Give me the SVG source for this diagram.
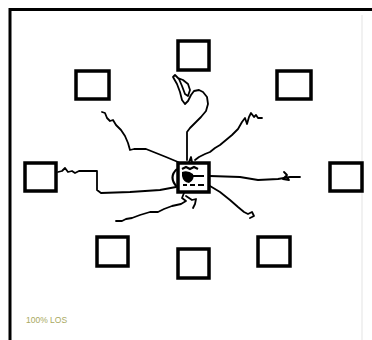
<svg xmlns="http://www.w3.org/2000/svg" width="372" height="340" viewBox="0 0 372 340">
<style>
.box{fill:none;stroke:#000;stroke-width:3.5}
.tr{fill:none;stroke:#000;stroke-width:1.8;stroke-linejoin:round;stroke-linecap:round}
.lbl{font-family:"Liberation Sans",Arial,sans-serif;font-size:8.5px;fill:#a8a860}
</style>
<rect width="372" height="340" fill="#fff"/>
<g id="frame">
<path d="M10,340 V9.5 H372" fill="none" stroke="#000" stroke-width="3"/>
<line x1="362" y1="15" x2="362" y2="340" stroke="#ececec" stroke-width="1.5"/>
</g>
<g id="connectors">
<path class="tr" d="M58,172 L62,171 L65,168 L68,172 L72,171 L75,173 L79,171 L97,171 L97,190 L101,193 L130,192 L160,190 L176,187"/>
<path class="tr" d="M102,112 L105,113 L107,118 L110,121 L113,120 L116,125 L121,130 L125,136 L128,143 L130,150 L134,149 L146,149 L156,153 L166,157 L178,162"/>
<path class="tr" d="M187,160 L187,132 L190,128 L196,122 L201,117 L206,111 L208,104 L207,97 L203,92 L199,90 L194,91 L191,95 L188,101 L185,104 L182,100 L180,92 L177,84 L173,77 L175,75 L179,79 L182,86 L185,94 L188,96 L190,90 L188,84 L183,80 L178,78"/>
<path class="tr" d="M195,160 L199,157 L205,154 L210,152 L215,148 L220,145 L226,140 L232,135 L238,129 L242,122 L245,118 L247,124 L249,117 L251,113 L254,117 L256,115 L258,118 L262,118"/>
<path class="tr" d="M210,176 L240,177 L258,180 L278,179 L290,177 L300,177"/>
<path class="tr" d="M284,172 L287,175 L283,179 L289,180 L286,176"/>
<path class="tr" d="M210,186 L220,192 L230,200 L238,207 L244,212 L248,214 L252,212 L254,216 L250,218"/>
<path class="tr" d="M184,193 L182,198 L186,201 L181,204 L172,206 L164,209 L158,212 L150,212 L140,215 L132,218 L126,219 L122,221 L116,221"/>
<path class="tr" d="M186,196 L192,200 L196,199 L195,204 L193,208"/>
<path class="tr" d="M189,162 L191,157 L192,162"/>
</g>
<g id="center">
<rect class="box" x="178" y="163" width="31" height="29"/>
<path d="M177,169 Q168,177 177,187 M182,169 L186,167 L190,169 L194,167 L198,169 M183,176 L204,176 M183,185 L187,185 M190,185 L195,185 M198,185 L204,185" fill="none" stroke="#000" stroke-width="2.2"/>
<path d="M182,172 Q188,170 193,174 Q195,180 189,183 Q183,182 182,176 Z" fill="#000"/>
</g>
<g id="n-top"><rect class="box" x="178" y="41" width="31" height="29"/></g>
<g id="n-topleft"><rect class="box" x="76" y="71" width="33" height="28"/></g>
<g id="n-topright"><rect class="box" x="277" y="71" width="34" height="28"/></g>
<g id="n-left"><rect class="box" x="25" y="163" width="31" height="28"/></g>
<g id="n-right"><rect class="box" x="330" y="163" width="32" height="28"/></g>
<g id="n-bottomleft"><rect class="box" x="97" y="237" width="31" height="29"/></g>
<g id="n-bottom"><rect class="box" x="178" y="249" width="31" height="29"/></g>
<g id="n-bottomright"><rect class="box" x="258" y="237" width="32" height="29"/></g>
<text class="lbl" x="26" y="323">100% LOS</text>
</svg>
